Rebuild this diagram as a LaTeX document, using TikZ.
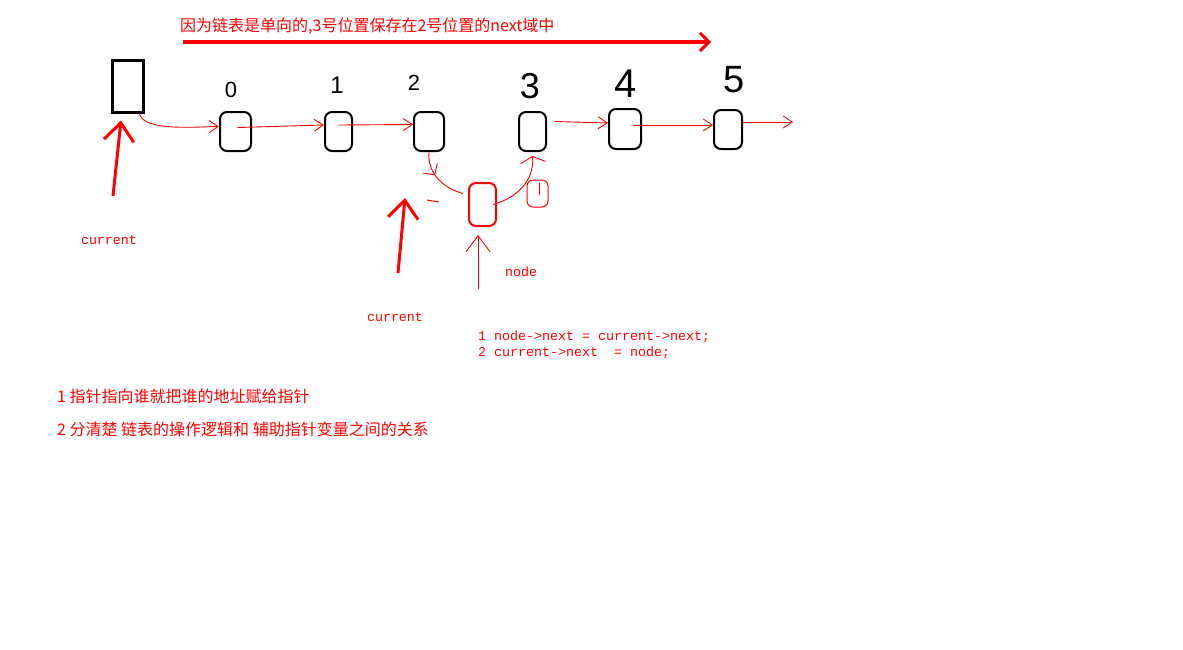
\documentclass[tikz,border=0pt]{standalone}
\usepackage{fontspec}
\setmainfont{Liberation Sans}
\newfontfamily\cjk{Noto Sans CJK SC}
\newfontfamily\monof{Liberation Mono}
\usetikzlibrary{arrows.meta,decorations.markings}

\begin{document}
\begin{tikzpicture}[x=1pt,y=-1pt,
  cell/.style={draw=black,line width=2pt,rounded corners=7pt,inner sep=0pt,fill=none},
  newcell/.style={cell,draw=red},
  conn/.style={draw=red,line width=0.9pt,-{Straight Barb[length=9pt,width=12pt,line width=0.9pt]}},
  ptr/.style={draw=red,line width=3pt,-{Straight Barb[length=18pt,width=30pt,line width=3pt]}},
  cjktext/.style={anchor=west,inner sep=0pt,text=red,font=\cjk\fontsize{16}{16}\selectfont},
  monotext/.style={inner sep=0pt,text=red,font=\monof\fontsize{13.33}{16}\selectfont},
  digit/.style={inner sep=0pt,text=black,font=\fontsize{#1}{#1}\selectfont},
  midarrow/.style={postaction={decorate,decoration={markings,
      mark=at position 0.42 with {\arrow{Straight Barb[length=8pt,width=17pt,line width=0.9pt]}}}}}
]
\useasboundingbox[fill=white] (0,0) rectangle (1183,649);

% heading and its long arrow
\node[cjktext] (title) at (180,26) {因为链表是单向的,3号位置保存在2号位置的next域中};
\coordinate (h1) at (183,42);
\coordinate (h2) at (711,42);
\draw[red,line width=3.5pt,-{Straight Barb[length=9pt,width=18pt,line width=3pt]}] (h1) -- (h2);

% head pointer box
\node[draw=black,line width=3pt,minimum width=31pt,minimum height=52pt,inner sep=0pt] (box) at (127.5,86) {};

% list cells
\node[cell,minimum width=31pt,minimum height=39pt] (n0) at (235.5,131.5) {};
\node[cell,minimum width=27pt,minimum height=39pt] (n1) at (338.5,131.5) {};
\node[cell,minimum width=30pt,minimum height=39pt] (n2) at (429,131.5) {};
\node[cell,minimum width=27pt,minimum height=39pt] (n3) at (532.5,131.5) {};
\node[cell,minimum width=32pt,minimum height=40pt] (n4) at (625,129) {};
\node[cell,minimum width=28pt,minimum height=39pt] (n5) at (728,129.5) {};
\node[newcell,minimum width=27pt,minimum height=43pt] (nn) at (482.5,204.5) {};

% index labels
\node[digit=22] (d0) at (231,90) {0};
\node[digit=24] (d1) at (337,85) {1};
\node[digit=22] (d2) at (414,83) {2};
\node[digit=36] (d3) at (530,86) {3};
\node[digit=40] (d4) at (626,84) {4};
\node[digit=38] (d5) at (734,80) {5};

% next links
\draw[conn] ([xshift=-5pt]box.south east) to[out=-80,in=180,looseness=0.6] ([yshift=5pt]n0.west);
\draw[conn] ([xshift=2pt,yshift=4pt]n0.center) -- ([yshift=6.5pt]n1.west);
\draw[conn] ([yshift=6.5pt]n1.center) -- ([yshift=7pt]n2.west);
\draw[conn] ([xshift=8pt,yshift=10pt]n3.east) -- ([yshift=6pt]n4.west);
\draw[conn] ([xshift=8pt,yshift=4pt]n4.center) -- ([yshift=4.5pt]n5.west);
\coordinate (tail5) at (793,122);
\draw[conn] ([yshift=7.5pt]n5.east) -- (tail5);

% inserting the new cell
\draw[red,line width=0.9pt,midarrow] (n2.south) to[out=-95,in=165] ([xshift=-5pt,yshift=11pt]nn.west);
\draw[red,line width=0.9pt,-{Straight Barb[length=6pt,width=25pt,line width=0.9pt]}]
  ([xshift=-4pt]nn.east) to[out=15,in=-85] ([yshift=-4pt]n3.south);
\draw[red,line width=1pt] (427,200) -- (439,202);
% step mark
\draw[red,line width=1pt,rounded corners=6pt] (527,180) rectangle (548,207);
\draw[red,line width=1pt] (539,183) -- (539,195);

% pointers
\coordinate (p1) at (113,196);
\draw[ptr] (p1) -- ([xshift=-6.5pt,yshift=-7pt]box.south);
\coordinate (p2a) at (398,273);
\coordinate (p2b) at (405,198);
\draw[ptr] (p2a) -- (p2b);
\coordinate (p3) at (478,289);
\draw[red,line width=0.9pt,-{Straight Barb[length=16pt,width=24pt,line width=0.9pt]}]
  (p3) -- ([xshift=-4.5pt,yshift=-8pt]nn.south);

% pointer names
\node[monotext] (cur1) at (109,240) {current};
\node[monotext] (cur2) at (395,317) {current};
\node[monotext] (nodelbl) at (521,272) {node};

% code
\node[monotext,anchor=west] (code1) at (478,337) {1 node->next = current->next;};
\node[monotext,anchor=west] (code2) at (478,353) {2 current->next\ \ = node;};

% notes
\node[cjktext] (rule1) at (57,396) {1 指针指向谁就把谁的地址赋给指针};
\node[cjktext] (rule2) at (57,429) {2 分清楚 链表的操作逻辑和 辅助指针变量之间的关系};
\end{tikzpicture}
\end{document}
